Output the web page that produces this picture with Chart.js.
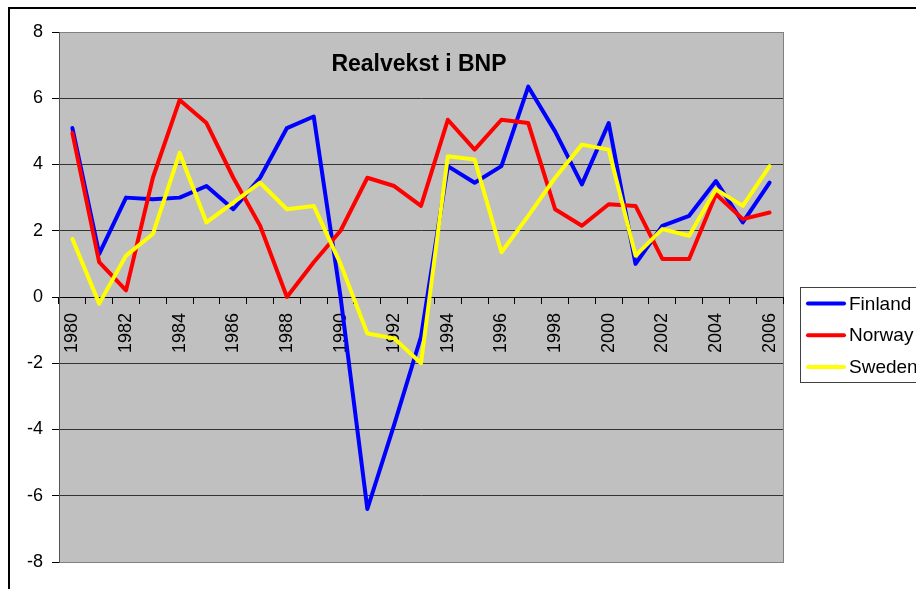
<!DOCTYPE html>
<html>
<head>
<meta charset="utf-8">
<script src="https://cdn.jsdelivr.net/npm/chart.js@4.4.1/dist/chart.umd.min.js"></script>
<style>
  html, body { margin: 0; padding: 0; background: #fff; }
  canvas { display: block; }
</style>
</head>
<body>
<canvas id="bnp" width="916" height="589"></canvas>
<script>
// Realvekst i BNP, prosent
const years = [
  '1980', '1981', '1982', '1983', '1984', '1985', '1986', '1987', '1988',
  '1989', '1990', '1991', '1992', '1993', '1994', '1995', '1996', '1997',
  '1998', '1999', '2000', '2001', '2002', '2003', '2004', '2005', '2006',
]
const finland = [5.1, 1.3, 3.0, 2.95, 3.0, 3.35, 2.65, 3.6, 5.1, 5.45, 0.0, -6.4, -3.85, -1.2, 3.95, 3.45, 3.95, 6.35, 5.0, 3.4, 5.25, 1.0, 2.15, 2.45, 3.5, 2.25, 3.45]
const norway = [4.95, 1.05, 0.2, 3.6, 5.95, 5.25, 3.6, 2.15, 0.0, 1.05, 2.0, 3.6, 3.35, 2.75, 5.35, 4.45, 5.35, 5.25, 2.65, 2.15, 2.8, 2.75, 1.15, 1.15, 3.1, 2.35, 2.55]
const sweden = [1.75, -0.2, 1.25, 1.9, 4.35, 2.25, 2.85, 3.45, 2.65, 2.75, 1.0, -1.1, -1.25, -2.0, 4.25, 4.15, 1.35, 2.45, 3.6, 4.6, 4.45, 1.25, 2.05, 1.85, 3.25, 2.75, 3.95]
const yMin = -8
const yMax = 8
const yStep = 2

const titleText = 'Realvekst i BNP'
const FONT = '"Liberation Sans", Arial, sans-serif'

const plotBackground = {
  id: 'plotBackground',
  beforeDraw(chart) {
    const { ctx, chartArea: a } = chart
    ctx.save()
    ctx.fillStyle = '#fff'
    ctx.fillRect(0, 0, chart.width, chart.height)
    // outer chart border (runs off the right and bottom edges)
    ctx.strokeStyle = '#000'
    ctx.lineWidth = 2
    ctx.strokeRect(9, 8, chart.width + 20, chart.height + 20)
    ctx.fillStyle = '#c0c0c0'
    ctx.fillRect(a.left, a.top, a.right - a.left, a.bottom - a.top)
    ctx.strokeStyle = '#808080'
    ctx.lineWidth = 1
    ctx.strokeRect(a.left + 0.5, a.top + 0.5, a.right - a.left, a.bottom - a.top)
    ctx.restore()
  },
  beforeDatasetsDraw(chart) {
    const { ctx, chartArea: a } = chart
    ctx.save()
    ctx.font = 'bold 23px ' + FONT
    ctx.fillStyle = '#000'
    ctx.textAlign = 'center'
    ctx.textBaseline = 'alphabetic'
    ctx.fillText(titleText, (a.left + a.right) / 2 - 2, 71)
    ctx.restore()
  },
  afterDraw(chart) {
    // Excel style legend box, clipped by the right edge
    const { ctx } = chart
    ctx.save()
    ctx.strokeStyle = '#404040'
    ctx.lineWidth = 1
    ctx.strokeRect(800.5, 287.5, 200, 95)
    ctx.font = '19px ' + FONT
    ctx.textBaseline = 'middle'
    ctx.textAlign = 'left'
    chart.data.datasets.forEach((ds, i) => {
      const y = 303.5 + i * 31.7
      ctx.strokeStyle = ds.borderColor
      ctx.lineWidth = 4
      ctx.lineCap = 'round'
      ctx.beginPath()
      ctx.moveTo(808, y)
      ctx.lineTo(844, y)
      ctx.stroke()
      ctx.fillStyle = '#000'
      ctx.fillText(ds.label, 849, y + 1)
    })
    ctx.restore()
  },
}

const seriesStyle = (color, order) => ({
  borderColor: color,
  backgroundColor: color,
  borderWidth: 4,
  borderJoinStyle: 'round',
  borderCapStyle: 'round',
  pointRadius: 0,
  tension: 0,
  order,
})

new Chart(document.getElementById('bnp'), {
  type: 'line',
  data: {
    labels: years,
    datasets: [
      { label: 'Finland', data: finland, ...seriesStyle('#0000ff', 3) },
      { label: 'Norway', data: norway, ...seriesStyle('#ff0000', 2) },
      { label: 'Sweden', data: sweden, ...seriesStyle('#ffff00', 1) },
    ],
  },
  options: {
    responsive: false,
    animation: false,
    devicePixelRatio: 1,
    layout: {
      padding: { left: 0, top: 32, right: 133, bottom: 27 },
    },
    plugins: {
      legend: { display: false },
      title: { display: false },
      tooltip: { enabled: false },
    },
    scales: {
      x: {
        type: 'category',
        offset: true,
        position: { y: 0 },
        grid: {
          offset: true,
          drawOnChartArea: false,
          drawTicks: true,
          tickLength: 6,
          tickColor: '#000',
        },
        border: { color: '#000', width: 1 },
        ticks: {
          autoSkip: false,
          minRotation: 90,
          maxRotation: 90,
          padding: 10,
          color: '#000',
          font: { family: FONT, size: 18 },
          callback: (value, index) => (index % 2 === 0 ? years[index] : ''),
        },
      },
      y: {
        min: yMin,
        max: yMax,
        afterFit: (scale) => { scale.width = 59 },
        grid: {
          color: (c) => {
            const v = c.tick ? c.tick.value : null
            if (v === yMin || v === yMax) return '#808080'
            if (v === 0) return '#000'
            return '#333'
          },
          drawTicks: true,
          tickLength: 7,
          tickColor: '#000',
        },
        border: { color: '#555' },
        ticks: {
          stepSize: yStep,
          padding: 9,
          color: '#000',
          font: { family: FONT, size: 18 },
        },
      },
    },
  },
  plugins: [plotBackground],
})
</script>
</body>
</html>
